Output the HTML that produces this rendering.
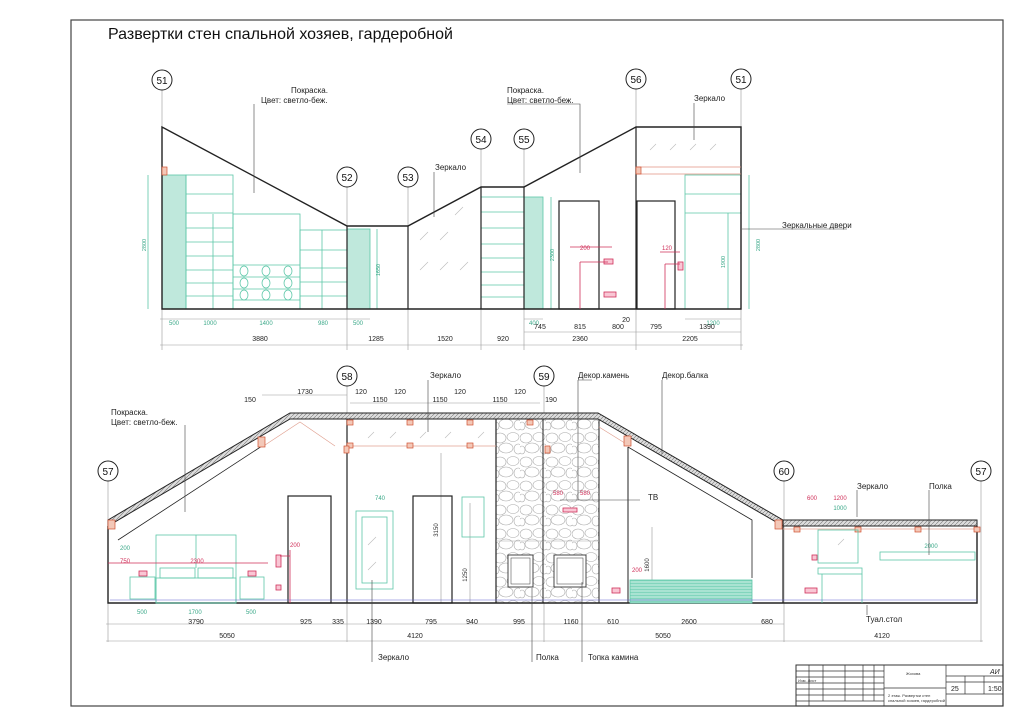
<!DOCTYPE html>
<html><head><meta charset="utf-8"><style>
html,body{margin:0;padding:0;background:#fff}
svg{display:block}
text{font-family:"Liberation Sans","DejaVu Sans",sans-serif}
</style></head><body>
<svg width="1024" height="724" viewBox="0 0 1024 724" xmlns="http://www.w3.org/2000/svg">
<defs>
<pattern id="hat" width="4" height="4" patternUnits="userSpaceOnUse"><rect width="4" height="4" fill="#ddd"/><path d="M0,4L4,0" stroke="#777" stroke-width="0.6"/></pattern>
<pattern id="stone" width="26" height="24" patternUnits="userSpaceOnUse">
<rect width="26" height="24" fill="#fff"/>
<g fill="none" stroke="#aaa" stroke-width="0.6">
<ellipse cx="6" cy="6" rx="6" ry="5"/><ellipse cx="19" cy="5" rx="6" ry="4.5"/><ellipse cx="12" cy="16" rx="7" ry="5"/><ellipse cx="24" cy="17" rx="4" ry="5"/><ellipse cx="2" cy="18" rx="3" ry="4"/></g></pattern>
<pattern id="tealh" width="4" height="3" patternUnits="userSpaceOnUse"><rect width="4" height="3" fill="#a9e3d2"/><path d="M0,1.5H4" stroke="#5cc7a8" stroke-width="0.5"/></pattern>
</defs>
<rect x="71" y="20" width="932" height="686" fill="none" stroke="#444" stroke-width="1.2"/>
<text x="108" y="39" font-size="16" fill="#111">Развертки стен спальной хозяев, гардеробной</text>

<!-- ============ TOP ELEVATION ============ -->
<g stroke="#999" stroke-width="0.6" fill="none">
<line x1="162" y1="90" x2="162" y2="350"/><line x1="347" y1="187" x2="347" y2="350"/><line x1="408" y1="187" x2="408" y2="350"/>
<line x1="481" y1="149" x2="481" y2="350"/><line x1="524" y1="149" x2="524" y2="350"/><line x1="636" y1="89" x2="636" y2="350"/><line x1="741" y1="89" x2="741" y2="350"/>
<line x1="160" y1="345" x2="743" y2="345"/><line x1="160" y1="319" x2="370" y2="319"/><line x1="524" y1="332" x2="741" y2="332"/><line x1="524" y1="319" x2="543" y2="319"/><line x1="685" y1="319" x2="741" y2="319"/>
</g>
<g fill="#fff" stroke="#222" stroke-width="1">
<circle cx="162" cy="80" r="10"/><circle cx="347" cy="177" r="10"/><circle cx="408" cy="177" r="10"/><circle cx="481" cy="139" r="10"/><circle cx="524" cy="139" r="10"/><circle cx="636" cy="79" r="10"/><circle cx="741" cy="79" r="10"/>
</g>
<g font-size="10" text-anchor="middle" fill="#111">
<text x="162" y="84">51</text><text x="347" y="181">52</text><text x="408" y="181">53</text><text x="481" y="143">54</text><text x="524" y="143">55</text><text x="636" y="83">56</text><text x="741" y="83">51</text>
</g>
<g stroke="#5cc7a8" stroke-width="0.8" fill="none">
<rect x="162" y="175" width="24" height="134" fill="#bfe8dc"/>
<rect x="186" y="175" width="47" height="134"/>
<path d="M186,194H233M186,213H233M186,228H233M186,242H233M186,256H233M186,270H233M186,283H233M186,296H233"/>
<rect x="233" y="214" width="67" height="95"/><path d="M233,265H300M233,277H300M233,289H300M233,300H300"/>
<ellipse cx="244" cy="271" rx="4" ry="5"/><ellipse cx="266" cy="271" rx="4" ry="5"/><ellipse cx="288" cy="271" rx="4" ry="5"/>
<ellipse cx="244" cy="283" rx="4" ry="5"/><ellipse cx="266" cy="283" rx="4" ry="5"/><ellipse cx="288" cy="283" rx="4" ry="5"/>
<ellipse cx="244" cy="295" rx="4" ry="5"/><ellipse cx="266" cy="295" rx="4" ry="5"/><ellipse cx="288" cy="295" rx="4" ry="5"/>
<rect x="300" y="230" width="47" height="79"/><path d="M300,250H347M300,268H347M300,282H347M300,296H347"/>
<rect x="347" y="229" width="23" height="80" fill="#bfe8dc"/>
<rect x="481" y="197" width="43" height="112"/><path d="M481,212H524M481,228H524M481,244H524M481,258H524M481,272H524M481,285H524M481,297H524"/>
<rect x="524" y="197" width="19" height="112" fill="#bfe8dc"/>
<rect x="685" y="175" width="56" height="134"/><path d="M685,194H741M685,213H741"/>
<line x1="749" y1="175" x2="749" y2="309"/><line x1="148" y1="175" x2="148" y2="309"/>
<line x1="377" y1="229" x2="377" y2="309"/><line x1="551" y1="197" x2="551" y2="309"/><line x1="728" y1="213" x2="728" y2="309"/>
<line x1="213" y1="214" x2="213" y2="309"/><line x1="322" y1="230" x2="322" y2="309"/>
</g>
<g font-size="5.5" fill="#3aa888" text-anchor="middle">
<text x="146" y="245" transform="rotate(-90 146 245)">2800</text><text x="380" y="270" transform="rotate(-90 380 270)">1650</text><text x="554" y="255" transform="rotate(-90 554 255)">2300</text><text x="760" y="245" transform="rotate(-90 760 245)">2800</text><text x="725" y="262" transform="rotate(-90 725 262)">1900</text>
</g>
<g font-size="6" fill="#3aa888" text-anchor="middle">
<text x="174" y="325">500</text><text x="210" y="325">1000</text><text x="266" y="325">1400</text><text x="323" y="325">980</text><text x="358" y="325">500</text><text x="534" y="325">400</text><text x="713" y="325">1200</text>
</g>
<path d="M162,309V127L347,226H408L481,187H524L636,127H741V309Z" fill="none" stroke="#222" stroke-width="1.4"/>
<line x1="636" y1="127" x2="636" y2="309" stroke="#222" stroke-width="1.2"/>
<line x1="408" y1="226" x2="408" y2="309" stroke="#222" stroke-width="1.2"/>
<line x1="347" y1="226" x2="347" y2="309" stroke="#222" stroke-width="1.2"/>
<line x1="481" y1="187" x2="481" y2="309" stroke="#222" stroke-width="1.2"/>
<line x1="524" y1="187" x2="524" y2="309" stroke="#222" stroke-width="1.2"/>
<rect x="559" y="201" width="40" height="108" fill="none" stroke="#222" stroke-width="1.2"/>
<rect x="637" y="201" width="38" height="108" fill="none" stroke="#222" stroke-width="1.2"/>
<line x1="636" y1="167" x2="741" y2="167" stroke="#e09080" stroke-width="0.7"/>
<line x1="636" y1="174" x2="741" y2="174" stroke="#e09080" stroke-width="0.7"/>
<rect x="162" y="167" width="5" height="8" fill="#f3c8b8" stroke="#d05030" stroke-width="0.7"/>
<rect x="636" y="167" width="5" height="7" fill="#f3c8b8" stroke="#d05030" stroke-width="0.7"/>
<g stroke="#bbb" stroke-width="0.6"><path d="M420,270l8,-8M440,270l8,-8M460,270l8,-8M420,240l8,-8M440,240l8,-8M455,215l8,-8M650,150l6,-6M670,150l6,-6M690,150l6,-6M710,150l6,-6"/></g>
<g stroke="#d0305a" fill="#f9c6d4" stroke-width="0.8">
<rect x="604" y="259" width="9" height="5"/><rect x="604" y="292" width="12" height="5"/><rect x="678" y="262" width="5" height="8"/>
<path d="M580,262V309M580,262H608M665,264V309M665,264H680M570,247H612M660,252H680" fill="none"/>
</g>
<g font-size="6" fill="#d0305a" text-anchor="middle"><text x="585" y="250">200</text><text x="667" y="250">120</text></g>
<g font-size="7" fill="#222" text-anchor="middle">
<text x="260" y="341">3880</text><text x="376" y="341">1285</text><text x="445" y="341">1520</text><text x="503" y="341">920</text><text x="580" y="341">2360</text><text x="690" y="341">2205</text>
<text x="540" y="329">745</text><text x="580" y="329">815</text><text x="618" y="329">800</text><text x="656" y="329">795</text><text x="707" y="329">1390</text><text x="626" y="322">20</text>
</g>
<g font-size="8" fill="#222">
<text x="291" y="93">Покраска.</text><text x="261" y="103">Цвет: светло-беж.</text>
<text x="507" y="93">Покраска.</text><text x="507" y="103">Цвет: светло-беж.</text>
<text x="435" y="170">Зеркало</text><text x="694" y="101">Зеркало</text><text x="782" y="228">Зеркальные двери</text>
</g>
<g stroke="#444" stroke-width="0.6" fill="none">
<path d="M254,104V193M507,104H580V173M434,172V217M694,103V140M742,229H847"/>
</g>

<!-- ============ BOTTOM ELEVATION ============ -->
<g stroke="#999" stroke-width="0.6" fill="none">
<line x1="108" y1="481" x2="108" y2="642"/><line x1="347" y1="386" x2="347" y2="642"/><line x1="544" y1="386" x2="544" y2="642"/><line x1="784" y1="481" x2="784" y2="642"/><line x1="981" y1="481" x2="981" y2="642"/>
<line x1="106" y1="624" x2="784" y2="624"/><line x1="106" y1="641" x2="983" y2="641"/>
<line x1="262" y1="395" x2="347" y2="395"/><line x1="350" y1="403" x2="540" y2="403"/>
<line x1="441" y1="453" x2="441" y2="603"/><line x1="470" y1="503" x2="470" y2="603"/><line x1="652" y1="527" x2="652" y2="603"/>
</g>
<g font-size="6" fill="#333" text-anchor="middle">
<text x="438" y="530" transform="rotate(-90 438 530)">3150</text><text x="467" y="575" transform="rotate(-90 467 575)">1250</text><text x="649" y="565" transform="rotate(-90 649 565)">1600</text>
</g>
<g fill="#fff" stroke="#222" stroke-width="1">
<circle cx="108" cy="471" r="10"/><circle cx="347" cy="376" r="10"/><circle cx="544" cy="376" r="10"/><circle cx="784" cy="471" r="10"/><circle cx="981" cy="471" r="10"/>
</g>
<g font-size="10" text-anchor="middle" fill="#111">
<text x="108" y="475">57</text><text x="347" y="380">58</text><text x="544" y="380">59</text><text x="784" y="475">60</text><text x="981" y="475">57</text>
</g>
<rect x="496" y="417" width="103" height="186" fill="url(#stone)"/>
<line x1="496" y1="417" x2="496" y2="603" stroke="#222" stroke-width="1.2"/>
<line x1="543" y1="417" x2="543" y2="603" stroke="#222" stroke-width="1"/>
<line x1="599" y1="417" x2="599" y2="603" stroke="#222" stroke-width="1"/>
<line x1="496" y1="541" x2="599" y2="541" stroke="#aaa" stroke-width="0.6"/>
<rect x="508" y="555" width="25" height="32" fill="#fff" stroke="#333" stroke-width="0.9"/><rect x="511" y="558" width="19" height="26" fill="none" stroke="#333" stroke-width="0.5"/>
<rect x="554" y="555" width="32" height="32" fill="#fff" stroke="#333" stroke-width="0.9"/><rect x="557" y="558" width="26" height="26" fill="none" stroke="#333" stroke-width="0.5"/>
<path d="M108,520L290,413H598L783,520H977V526H783L598,419H290L108,526Z" fill="url(#hat)" stroke="#222" stroke-width="1"/>
<path d="M108,526V603H977V526" fill="none" stroke="#222" stroke-width="1.4"/>
<line x1="347" y1="419" x2="347" y2="603" stroke="#222" stroke-width="1.2"/>
<line x1="783" y1="520" x2="783" y2="603" stroke="#222" stroke-width="1.2"/>
<path d="M118,540L262,446M628,447L752,520V578" fill="none" stroke="#222" stroke-width="0.8"/>
<line x1="628" y1="447" x2="628" y2="603" stroke="#222" stroke-width="1"/>
<path d="M262,447L300,422L335,446M599,427L628,445" fill="none" stroke="#e0a090" stroke-width="0.7"/>
<line x1="350" y1="446" x2="496" y2="446" stroke="#e0a090" stroke-width="0.7"/>
<line x1="783" y1="529" x2="977" y2="529" stroke="#e0a090" stroke-width="0.7"/>
<g stroke="#bbb" stroke-width="0.6"><path d="M368,438l6,-6M390,438l6,-6M420,438l6,-6M445,438l6,-6M478,438l6,-6M368,545l8,-8M368,570l8,-8M838,545l6,-6"/></g>
<g fill="#f3c8b8" stroke="#d05030" stroke-width="0.7">
<rect x="108" y="520" width="7" height="9"/><rect x="258" y="437" width="7" height="10"/><rect x="624" y="436" width="7" height="10"/><rect x="775" y="520" width="7" height="9"/>
<rect x="347" y="420" width="6" height="5"/><rect x="407" y="420" width="6" height="5"/><rect x="467" y="420" width="6" height="5"/><rect x="527" y="420" width="6" height="5"/>
<rect x="347" y="443" width="6" height="5"/><rect x="407" y="443" width="6" height="5"/><rect x="467" y="443" width="6" height="5"/><rect x="545" y="446" width="5" height="7"/><rect x="344" y="446" width="5" height="7"/>
<rect x="794" y="527" width="6" height="5"/><rect x="855" y="527" width="6" height="5"/><rect x="915" y="527" width="6" height="5"/><rect x="974" y="527" width="6" height="5"/>
</g>
<rect x="288" y="496" width="43" height="107" fill="none" stroke="#222" stroke-width="1.2"/>
<rect x="413" y="496" width="39" height="107" fill="none" stroke="#222" stroke-width="1.2"/>
<g stroke="#5cc7a8" stroke-width="0.8" fill="none">
<rect x="156" y="535" width="80" height="68"/><line x1="196" y1="535" x2="196" y2="568"/>
<rect x="160" y="568" width="35" height="10"/><rect x="198" y="568" width="35" height="10"/>
<rect x="156" y="578" width="80" height="25"/>
<rect x="130" y="577" width="25" height="22"/><rect x="240" y="577" width="24" height="22"/>
<rect x="356" y="511" width="37" height="78"/><rect x="362" y="517" width="25" height="66"/>
<rect x="462" y="497" width="22" height="40"/>
<rect x="630" y="580" width="122" height="23" fill="url(#tealh)"/>
<rect x="818" y="530" width="40" height="33"/><rect x="818" y="568" width="44" height="6"/><line x1="822" y1="574" x2="822" y2="603"/><line x1="862" y1="574" x2="862" y2="603"/>
<rect x="880" y="552" width="95" height="8"/>
</g>
<line x1="110" y1="600" x2="977" y2="600" stroke="#6060d0" stroke-width="0.6"/>
<g stroke="#d0305a" fill="#f9c6d4" stroke-width="0.8">
<rect x="139" y="571" width="8" height="5"/><rect x="248" y="571" width="8" height="5"/><rect x="276" y="555" width="5" height="12"/><rect x="276" y="585" width="5" height="5"/>
<rect x="563" y="508" width="14" height="4"/><rect x="612" y="588" width="8" height="5"/><rect x="812" y="555" width="5" height="5"/><rect x="805" y="588" width="12" height="5"/>
<path d="M108,563H268M290,550V603M280,556H290" fill="none"/>
</g>
<g font-size="6" fill="#d0305a" text-anchor="middle"><text x="197" y="563">2300</text><text x="125" y="563">750</text><text x="295" y="547">200</text><text x="558" y="495">580</text><text x="585" y="495">580</text><text x="637" y="572">200</text><text x="812" y="500">600</text><text x="840" y="500">1200</text></g>
<g font-size="6" fill="#3aa888" text-anchor="middle"><text x="195" y="614">1700</text><text x="142" y="614">500</text><text x="251" y="614">500</text><text x="380" y="500">740</text><text x="125" y="550">200</text><text x="840" y="510">1000</text><text x="931" y="548">2000</text></g>
<g font-size="7" fill="#222" text-anchor="middle">
<text x="196" y="624">3790</text><text x="306" y="624">925</text><text x="338" y="624">335</text><text x="374" y="624">1390</text><text x="431" y="624">795</text><text x="472" y="624">940</text><text x="519" y="624">995</text><text x="571" y="624">1160</text><text x="613" y="624">610</text><text x="689" y="624">2600</text><text x="767" y="624">680</text>
<text x="227" y="638">5050</text><text x="415" y="638">4120</text><text x="663" y="638">5050</text><text x="882" y="638">4120</text>
<text x="305" y="394">1730</text><text x="361" y="394">120</text><text x="380" y="402">1150</text><text x="400" y="394">120</text><text x="440" y="402">1150</text><text x="460" y="394">120</text><text x="500" y="402">1150</text><text x="520" y="394">120</text><text x="551" y="402">190</text><text x="250" y="402">150</text>
</g>
<g font-size="8" fill="#222">
<text x="111" y="415">Покраска.</text><text x="111" y="425">Цвет: светло-беж.</text>
<text x="430" y="378">Зеркало</text><text x="578" y="378">Декор.камень</text><text x="662" y="378">Декор.балка</text>
<text x="648" y="500">ТВ</text><text x="857" y="489">Зеркало</text><text x="929" y="489">Полка</text><text x="866" y="622">Туал.стол</text>
<text x="378" y="660">Зеркало</text><text x="536" y="660">Полка</text><text x="588" y="660">Топка камина</text>
</g>
<g stroke="#444" stroke-width="0.6" fill="none">
<path d="M185,425V512M428,380V432M578,380H592M578,380V500M662,380V454M560,500H640M857,490V517M929,490V555M867,605V615M372,580V662M532,588V662M582,582V662"/>
</g>

<g stroke="#333" stroke-width="0.7" fill="none">
<rect x="796" y="665" width="207" height="41" stroke-width="1"/>
<line x1="884" y1="665" x2="884" y2="706"/><line x1="946" y1="665" x2="946" y2="706"/>
<path d="M796,671H884M796,677H884M796,683H884M796,689H884M796,695H884M796,701H884"/>
<path d="M809,665V706M823,665V701M845,665V701M863,665V701M874,665V701"/>
<path d="M884,688H946M946,676H1003M946,682H1003M946,694H1003M965,676V694M984,676V694"/>
</g>
<g font-size="4" fill="#333"><text x="906" y="675">Жохова</text><text x="888" y="697">2 этаж. Развертки стен</text><text x="888" y="702">спальной хозяев, гардеробной</text><text x="798" y="682">Изм. Лист</text></g>
<g font-size="7" fill="#222"><text x="990" y="674" font-style="italic">АИ</text><text x="951" y="691">25</text><text x="988" y="691">1:50</text></g>
</svg>
</body></html>
